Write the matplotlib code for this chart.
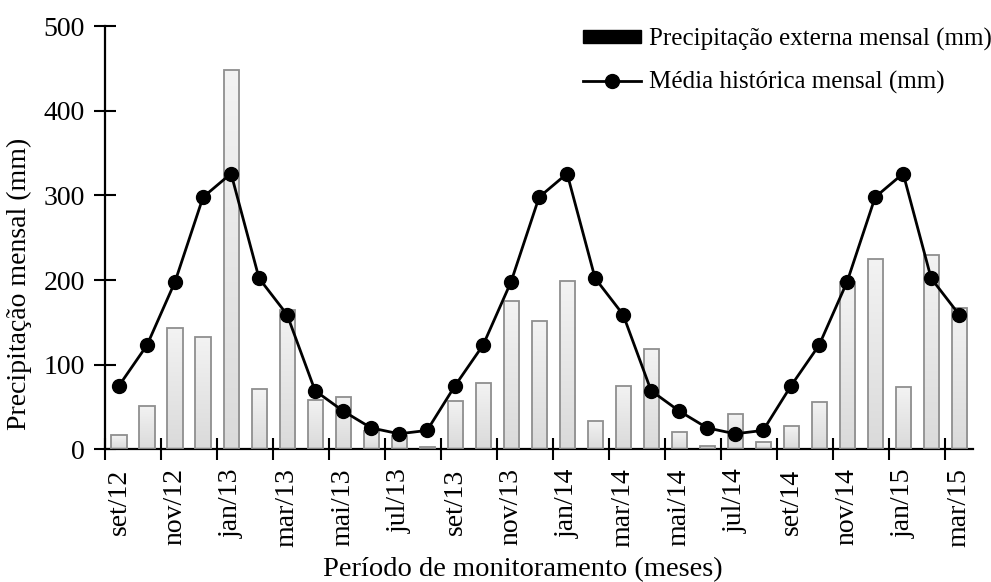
import matplotlib
matplotlib.use("Agg")
import matplotlib.pyplot as plt
import matplotlib.patches as patches
from matplotlib.lines import Line2D
import numpy as np

plt.rcParams['font.family'] = ['Liberation Serif', 'DejaVu Serif']

# ---------- dados ----------
meses = ["set/12", "out/12", "nov/12", "dez/12", "jan/13", "fev/13", "mar/13", "abr/13",
         "mai/13", "jun/13", "jul/13", "ago/13", "set/13", "out/13", "nov/13", "dez/13",
         "jan/14", "fev/14", "mar/14", "abr/14", "mai/14", "jun/14", "jul/14", "ago/14",
         "set/14", "out/14", "nov/14", "dez/14", "jan/15", "fev/15", "mar/15"]

precip_externa = [16, 51, 143, 132, 448, 71, 165, 58, 62, 21, 15, 2,
                  57, 78, 175, 152, 199, 33, 75, 118, 20, 4, 41, 8,
                  27, 56, 198, 225, 73, 229, 167]

media_historica = [75, 123, 198, 298, 326, 202, 159, 69, 45, 25, 18, 22,
                   75, 123, 198, 298, 326, 202, 159, 69, 45, 25, 18, 22,
                   75, 123, 198, 298, 326, 202, 159]

# ---------- figura ----------
fig = plt.figure(figsize=(9.91, 5.82), dpi=100, facecolor='white')
ax = fig.add_axes([0.106, 0.2285, 0.876, 0.726])

x = np.arange(len(meses))
bars = ax.bar(x, precip_externa, width=0.54, facecolor='none',
              edgecolor='#8f8f8f', linewidth=1.3, zorder=3)

# gradiente claro dentro das barras
grad = np.linspace(0, 1, 256).reshape(-1, 1)
cmap_g = matplotlib.colors.LinearSegmentedColormap.from_list('g', ['#dadada', '#f3f3f3'])
for b in bars:
    bx, by = b.get_x(), b.get_y()
    bw, bh = b.get_width(), b.get_height()
    im = ax.imshow(grad, cmap=cmap_g, origin='lower', aspect='auto',
                   extent=(bx, bx + bw, by, by + bh), zorder=2, interpolation='bilinear')
    clip = patches.Rectangle((bx, by), bw, bh, transform=ax.transData)
    im.set_clip_path(clip)

ax.plot(x, media_historica, color='black', linewidth=2.0, marker='o',
        markersize=10, zorder=4)

ax.set_xlim(-0.5, len(meses) - 0.5)
ax.set_ylim(0, 500)

# eixos
for s in ['top', 'right']:
    ax.spines[s].set_visible(False)
ax.spines['left'].set_linewidth(1.6)
ax.spines['bottom'].set_linewidth(1.6)

ax.set_yticks([0, 100, 200, 300, 400, 500])
ax.tick_params(axis='y', direction='inout', length=16, width=1.5, labelsize=20, pad=6.5)

ax.set_xticks(x[::2])
ax.set_xticklabels(meses[::2], rotation=90, fontsize=20)
ax.set_xticks(np.arange(-0.5, len(meses) - 1, 2), minor=True)
ax.tick_params(axis='x', which='major', length=0, pad=14)
ax.tick_params(axis='x', which='minor', direction='inout', length=16, width=1.5)

ax.set_ylabel("Precipitação mensal (mm)", fontsize=20)
ax.yaxis.set_label_coords(-0.084, 0.39)
ax.set_xlabel("Período de monitoramento (meses)", fontsize=20.5)
ax.xaxis.set_label_coords(0.4816, -0.2556)

# legenda
h_bar = patches.Rectangle((0, 0), 1, 1, facecolor='black', edgecolor='black')
h_line = Line2D([], [], color='black', linewidth=2.0, marker='o', markersize=10)
ax.legend([h_bar, h_line], ["Precipitação externa mensal (mm)", "Média histórica mensal (mm)"],
          loc='upper left', bbox_to_anchor=(583 / 991, 1 - 28 / 582),
          bbox_transform=fig.transFigure, frameon=False, fontsize=18,
          borderpad=0, borderaxespad=0,
          handlelength=2.3, handleheight=0.42, handletextpad=0.33, labelspacing=0.8)

fig.savefig("out.png", dpi=100, facecolor='white')
